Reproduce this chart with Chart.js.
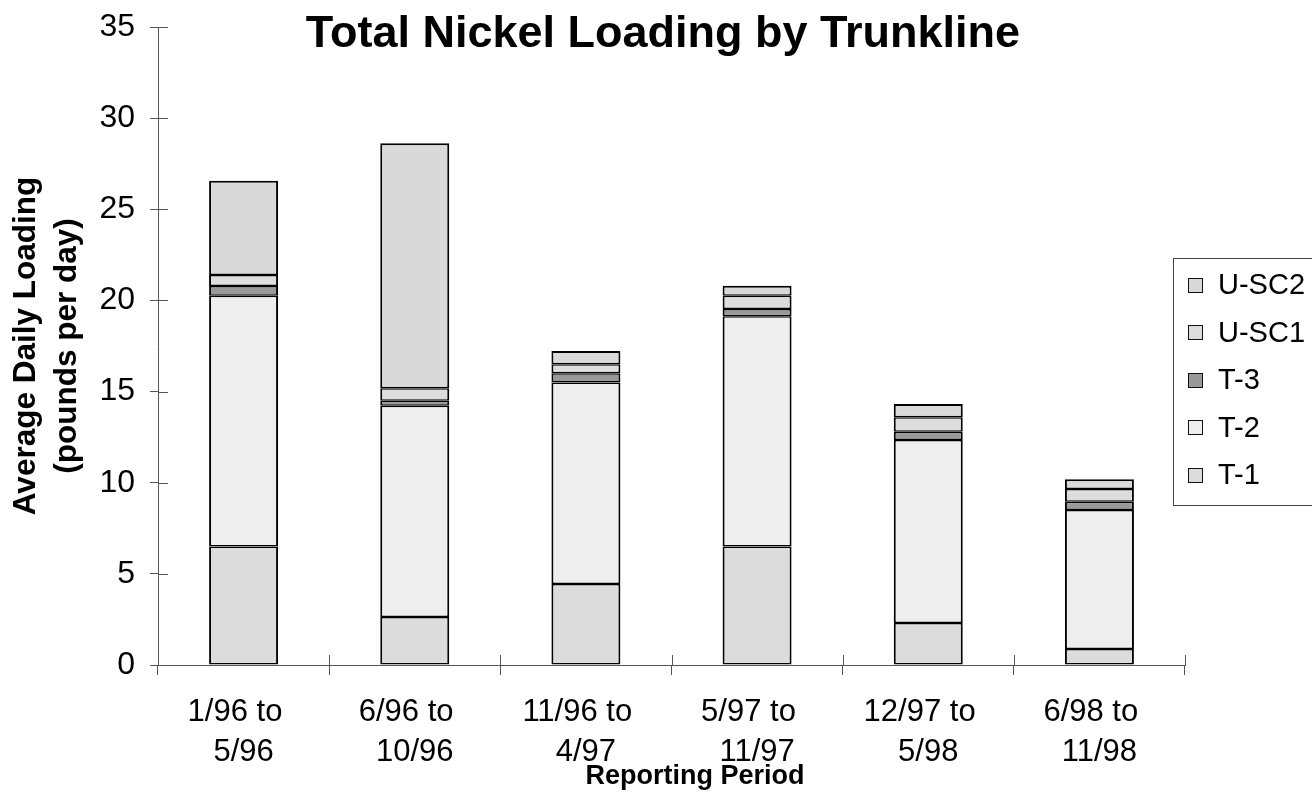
<!DOCTYPE html>
<html>
<head>
<meta charset="utf-8">
<title>Total Nickel Loading by Trunkline</title>
<script src="https://cdn.jsdelivr.net/npm/chart.js@4/dist/chart.umd.min.js"></script>
<style>
  html, body { margin: 0; padding: 0; background: #ffffff; }
  #wrap { width: 1312px; height: 810px; }
</style>
</head>
<body>
<div id="wrap"><canvas id="chart" width="1312" height="810"></canvas></div>
<script>
// Reporting periods (two-line category labels)
const periods = [
  ['1/96 to  ', '5/96'],
  ['6/96 to  ', '10/96'],
  ['11/96 to  ', '4/97'],
  ['5/97 to  ', '11/97'],
  ['12/97 to  ', '5/98'],
  ['6/98 to  ', '11/98']
];

// Average daily nickel loading per trunkline (pounds per day)
const t1   = [6.50, 2.63, 4.45, 6.50, 2.30, 0.88];
const t2   = [13.76, 11.59, 11.05, 12.63, 10.04, 7.62];
const t3   = [0.53, 0.28, 0.50, 0.40, 0.46, 0.46];
const usc1 = [0.60, 0.68, 0.50, 0.73, 0.79, 0.69];
const usc2 = [5.18, 13.44, 0.72, 0.55, 0.73, 0.54];

const yTicks = [0, 5, 10, 15, 20, 25, 30, 35];

const FONT = "'Liberation Sans', Arial, Helvetica, sans-serif";
const AXIS = '#555555';

const segBorder = { top: 1.5, bottom: 1.5, left: 2, right: 2 };

function series(label, data, fill, border) {
  return {
    label, data,
    backgroundColor: fill,
    borderColor: '#000000',
    borderWidth: border || segBorder,
    borderSkipped: false,
    barPercentage: 0.403,
    categoryPercentage: 1.0
  };
}

// Title, axis titles, inward tick halves and boxed legend
const decor = {
  id: 'decor',
  afterDraw(chart) {
    const { ctx, chartArea: a, scales: { x, y } } = chart;
    ctx.save();

    // tick marks cross the axis lines: draw the inner halves
    ctx.strokeStyle = AXIS;
    ctx.lineWidth = 1;
    ctx.beginPath();
    yTicks.forEach(v => {
      const py = Math.round(y.getPixelForValue(v)) + 0.5;
      ctx.moveTo(a.left, py);
      ctx.lineTo(a.left + 10, py);
    });
    const n = periods.length;
    for (let i = 0; i <= n; i++) {
      const px = Math.round(a.left + (a.right - a.left) * i / n) + 0.5;
      ctx.moveTo(px, a.bottom);
      ctx.lineTo(px, a.bottom - 10);
    }
    ctx.stroke();

    ctx.fillStyle = '#000000';
    ctx.textAlign = 'center';
    ctx.textBaseline = 'middle';

    // chart title
    ctx.font = 'bold 45px ' + FONT;
    ctx.fillText('Total Nickel Loading by Trunkline', 663, 35);

    // x axis title
    ctx.font = 'bold 27px ' + FONT;
    ctx.fillText('Reporting Period', 695, 777);

    // y axis title (rotated, two lines)
    ctx.save();
    ctx.translate(0, (a.top + a.bottom) / 2);
    ctx.rotate(-Math.PI / 2);
    ctx.font = 'bold 31.5px ' + FONT;
    ctx.textBaseline = 'alphabetic';
    ctx.fillText('Average Daily Loading', 0, 35);
    ctx.fillText('(pounds per day)', 0, 76);
    ctx.restore();

    // legend box
    ctx.strokeStyle = '#444444';
    ctx.lineWidth = 1;
    ctx.strokeRect(1173.5, 258.5, 160, 247);
    const ds = chart.data.datasets.slice().reverse();
    ctx.font = '29px ' + FONT;
    ctx.textAlign = 'left';
    ctx.textBaseline = 'middle';
    ds.forEach((d, i) => {
      const cy = 285 + i * 47.5;
      ctx.fillStyle = d.backgroundColor;
      ctx.fillRect(1188, Math.round(cy - 7.5), 15, 15);
      ctx.strokeStyle = '#111111';
      ctx.strokeRect(1188.5, Math.round(cy - 7.5) + 0.5, 14, 14);
      ctx.fillStyle = '#000000';
      ctx.fillText(d.label, 1218, cy + 1);
    });

    ctx.restore();
  }
};

new Chart(document.getElementById('chart'), {
  type: 'bar',
  data: {
    labels: periods,
    datasets: [
      series('T-1', t1, '#dcdcdc'),
      series('T-2', t2, '#eeeeee'),
      series('T-3', t3, '#999999'),
      series('U-SC1', usc1, '#dddddd'),
      series('U-SC2', usc2, '#d9d9d9', { top: 2, bottom: 1.5, left: 2, right: 2 })
    ]
  },
  options: {
    responsive: false,
    animation: false,
    devicePixelRatio: 1,
    layout: { padding: { left: 100, right: 127, top: 27, bottom: 0 } },
    plugins: {
      legend: { display: false },
      title: { display: false },
      tooltip: { enabled: false }
    },
    scales: {
      x: {
        stacked: true,
        offset: true,
        afterFit(scale) {
          scale.height = 145;
          scale.paddingLeft = 0; scale.paddingRight = 0;
        },
        border: { display: true, color: AXIS, width: 1 },
        grid: {
          display: true, offset: true, drawOnChartArea: false,
          drawTicks: true, tickLength: 10, color: AXIS, lineWidth: 1
        },
        ticks: {
          color: '#000000', padding: 18, maxRotation: 0, autoSkip: false,
          font: { family: FONT, size: 31, lineHeight: 1.27 }
        }
      },
      y: {
        stacked: true,
        min: 0, max: 35,
        afterFit(scale) {
          scale.width = 58;
          scale.paddingTop = 0; scale.paddingBottom = 0;
        },
        afterBuildTicks(scale) { scale.ticks = yTicks.map(v => ({ value: v })); },
        border: { display: true, color: AXIS, width: 1 },
        grid: {
          display: true, drawOnChartArea: false,
          drawTicks: true, tickLength: 8, color: AXIS, lineWidth: 1
        },
        ticks: {
          color: '#000000', padding: 15,
          font: { family: FONT, size: 32 }
        }
      }
    }
  },
  plugins: [decor]
});
</script>
</body>
</html>
